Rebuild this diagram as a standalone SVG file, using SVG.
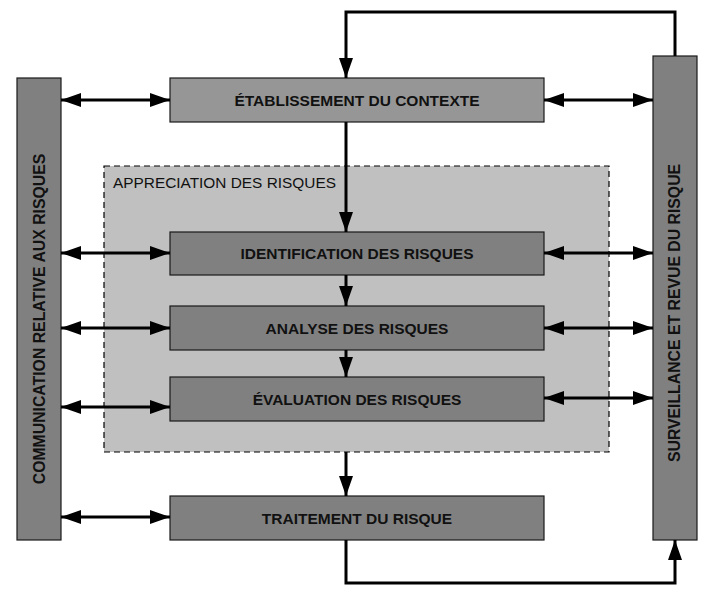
<svg xmlns="http://www.w3.org/2000/svg" width="716" height="597" viewBox="0 0 716 597">
<defs>
<marker id="ah" markerUnits="userSpaceOnUse" markerWidth="21" markerHeight="14" refX="20" refY="7" orient="auto-start-reverse" viewBox="0 0 21 14">
<path d="M0,0 L20,7 L0,14 z" fill="#000"/>
</marker>
<style>
.box{fill:#808080;stroke:#1a1a1a;stroke-width:1.2}
.light{fill:#969696}
.lbl{font-family:"Liberation Sans",Arial,sans-serif;font-weight:bold;font-size:15.5px;fill:#111;text-anchor:middle}
.vl{font-size:15.8px}
.c{fill:none;stroke:#000;stroke-width:3}
.d{marker-end:url(#ah)}
.b{marker-start:url(#ah);marker-end:url(#ah)}
</style>
</defs>
<rect width="716" height="597" fill="#fff"/>
<g id="appreciation">
<rect x="104" y="166" width="505" height="286" fill="#c0c0c0" stroke="#000" stroke-width="1.2" stroke-dasharray="6,4"/>
<text x="113" y="188" font-family="Liberation Sans,Arial,sans-serif" font-size="15.4" fill="#111">APPRECIATION DES RISQUES</text>
</g>
<g id="communication">
<rect class="box" x="17" y="78" width="44" height="462"/>
<text class="lbl vl" transform="translate(44.5,319) rotate(-90)">COMMUNICATION RELATIVE AUX RISQUES</text>
</g>
<g id="surveillance">
<rect class="box" x="653" y="56" width="44" height="484"/>
<text class="lbl vl" transform="translate(679.5,313) rotate(-90)">SURVEILLANCE ET REVUE DU RISQUE</text>
</g>
<g id="contexte">
<rect class="box light" x="170" y="78" width="374" height="44"/>
<text class="lbl" x="357" y="105.5">ÉTABLISSEMENT DU CONTEXTE</text>
</g>
<g id="identification">
<rect class="box" x="170" y="232" width="374" height="43"/>
<text class="lbl" x="357" y="259">IDENTIFICATION DES RISQUES</text>
</g>
<g id="analyse">
<rect class="box" x="170" y="306" width="374" height="44"/>
<text class="lbl" x="357" y="333.5">ANALYSE DES RISQUES</text>
</g>
<g id="evaluation">
<rect class="box" x="170" y="377" width="374" height="44"/>
<text class="lbl" x="357" y="404.5">ÉVALUATION DES RISQUES</text>
</g>
<g id="traitement">
<rect class="box" x="170" y="496" width="374" height="44"/>
<text class="lbl" x="357" y="523.5">TRAITEMENT DU RISQUE</text>
</g>
<g id="connectors">
<path class="c d" d="M675,56 V12 H346 V78"/>
<path class="c d" d="M346,122 V232"/>
<path class="c d" d="M346,275 V306"/>
<path class="c d" d="M346,350 V377"/>
<path class="c d" d="M346,452 V496"/>
<path class="c d" d="M346,540 V583 H675 V540"/>
<path class="c b" d="M61,100 H170"/>
<path class="c b" d="M61,253 H170"/>
<path class="c b" d="M61,328 H170"/>
<path class="c b" d="M61,407 H170"/>
<path class="c b" d="M61,517 H170"/>
<path class="c b" d="M544,100 H653"/>
<path class="c b" d="M544,253 H653"/>
<path class="c b" d="M544,328 H653"/>
<path class="c b" d="M544,398 H653"/>
</g>
</svg>
